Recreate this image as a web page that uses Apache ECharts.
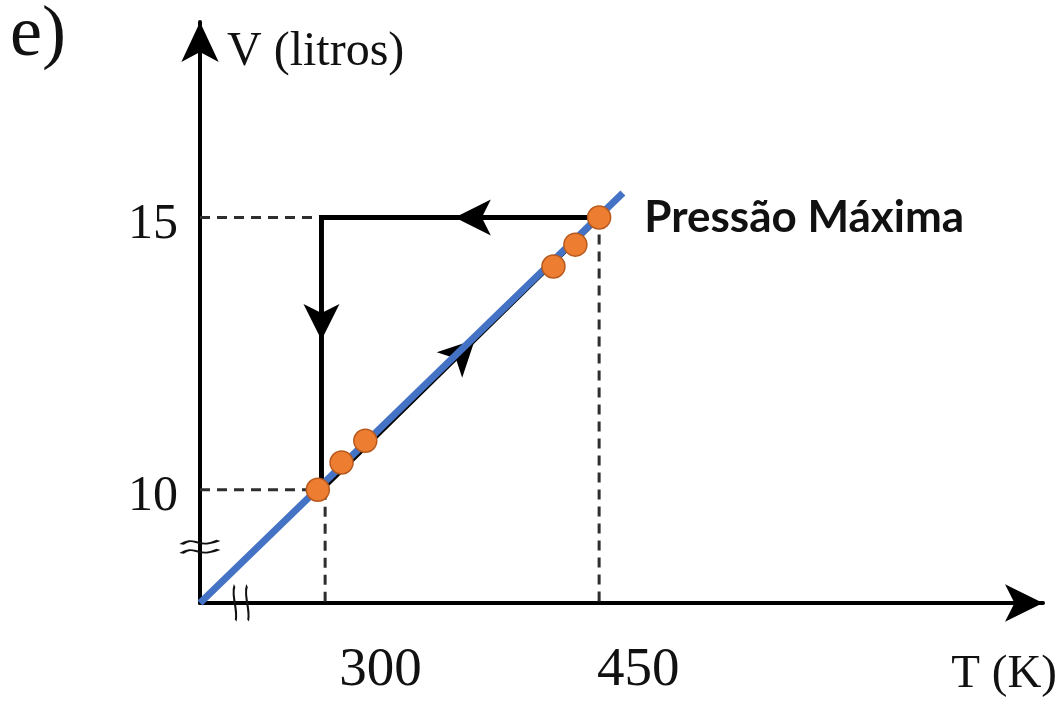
<!DOCTYPE html>
<html><head><meta charset="utf-8">
<script src="https://cdn.jsdelivr.net/npm/echarts@6/dist/echarts.min.js"></script>
<style>html,body{margin:0;padding:0;background:#fff}#c{width:1062px;height:701px}</style>
</head><body><div id="c"></div>
<script>
// ---- data (T in K, V in litres); both axes are broken, origin is not zero ----
const panelLabel = 'e)';
const tAxisName = 'T (K)';
const vAxisName = 'V (litros)';
const annotationText = 'Pressão Máxima';
const tAxisRange = [231.5, 693.0];
const vAxisRange = [7.92, 18.59];
const tTickValues = [300, 450];
const tTickLabels = ['300', '450'];
const vTickValues = [10, 15];
const vTickLabels = ['10', '15'];
// measured states (orange points)
const stateT = [296, 309, 322, 425, 437, 450];
const stateV = [10.0, 10.5, 10.9, 14.1, 14.5, 15.0];
// blue line V proportional to T
const fitT = [231.5, 463];
const fitV = [7.92, 15.45];
// black cycle path
const cycleT = [450, 298, 298, 450];
const cycleV = [15, 15, 10, 15];
// direction arrows on the cycle (arrow tips)
const arrowT = [371, 298, 382];
const arrowV = [15, 12.75, 12.76];
const arrowAngle = [90, 180, -45];
// dashed guide values
const guideT = [300, 450];
const guideV = [10, 15];
// axis-break marks positions (T on x-axis, V on y-axis)
const breakT = 254;
const breakV = 8.95;

const serif = 'Liberation Serif';
const chart = echarts.init(document.getElementById('c'), null, {renderer: 'canvas'});

const dash = {color: '#2e2e2e', width: 3, type: [10, 7]};
function seg(a, b) {
  return {type: 'line', data: [a, b], symbol: 'none', lineStyle: dash, z: 1, silent: true, clip: false};
}
const maxIdx = stateV.indexOf(Math.max(...stateV));
const tMin = tAxisRange[0], vMin = vAxisRange[0];

const option = {
  animation: false,
  backgroundColor: '#fff',
  title: {text: panelLabel, left: 10, top: 0, padding: 0,
    textStyle: {fontFamily: serif, fontWeight: 'normal', fontSize: 72, color: '#111'}},
  grid: {left: 200, top: 22, right: 19, bottom: 98, containLabel: false},
  xAxis: {
    type: 'value', min: tAxisRange[0], max: tAxisRange[1],
    name: '{n|' + tAxisName + '}', nameLocation: 'end', nameGap: 14,
    nameTextStyle: {align: 'right', verticalAlign: 'middle',
      rich: {n: {fontFamily: serif, fontSize: 47, color: '#111', padding: [144, 0, 0, 0]}}},
    axisLine: {onZero: false, lineStyle: {color: '#000', width: 4}, symbol: ['none', 'arrow'], symbolSize: [28, 38]},
    axisTick: {show: false}, splitLine: {show: false},
    axisLabel: {
      customValues: tTickValues, margin: 40, align: 'left',
      formatter: v => { const i = tTickValues.indexOf(v); return '{' + (i === 0 ? 'a' : 'b') + '|' + tTickLabels[i] + '}'; },
      rich: {
        a: {fontFamily: serif, fontSize: 55, color: '#111', padding: [0, 0, 0, 14]},
        b: {fontFamily: serif, fontSize: 55, color: '#111', padding: [0, 0, 0, -2]}
      }
    }
  },
  yAxis: {
    type: 'value', min: vAxisRange[0], max: vAxisRange[1],
    name: vAxisName, nameLocation: 'end', nameGap: -30,
    nameTextStyle: {fontFamily: serif, fontSize: 48, color: '#111', align: 'left', verticalAlign: 'middle', padding: [0, 0, 0, 27]},
    axisLine: {onZero: false, lineStyle: {color: '#000', width: 4}, symbol: ['none', 'arrow'], symbolSize: [28, 40]},
    axisTick: {show: false}, splitLine: {show: false},
    axisLabel: {
      customValues: vTickValues, margin: 22,
      formatter: v => '{v|' + vTickLabels[vTickValues.indexOf(v)] + '}',
      rich: {v: {fontFamily: serif, fontSize: 50, color: '#111', padding: [14, 0, 0, 0]}}
    }
  },
  series: [
    // dashed guides
    seg([tMin, guideV[0]], [stateT[0], guideV[0]]),
    seg([tMin, guideV[1]], [cycleT[1], guideV[1]]),
    seg([guideT[0], guideV[0]], [guideT[0], vMin]),
    seg([guideT[1], guideV[1]], [guideT[1], vMin]),
    // black cycle
    {type: 'line', data: cycleT.map((t, i) => [t, cycleV[i]]), symbol: 'none', z: 2, silent: true,
      lineStyle: {color: '#000', width: 5, join: 'miter'}},
    // arrows
    {type: 'scatter', z: 3, silent: true, clip: false,
      data: arrowT.map((t, i) => ({value: [t, arrowV[i]], symbolRotate: arrowAngle[i]})),
      symbol: 'arrow', symbolSize: [27, 36], itemStyle: {color: '#000', opacity: 1}},
    // blue proportional line
    {type: 'line', data: fitT.map((t, i) => [t, fitV[i]]), symbol: 'none', z: 4, silent: true, clip: false,
      lineStyle: {color: '#4472C4', width: 7}},
    // orange states
    {type: 'scatter', z: 5, silent: true, clip: false, symbolSize: 23,
      itemStyle: {color: '#ED7D31', borderColor: '#B85A1E', borderWidth: 1.5, opacity: 1},
      data: stateT.map((t, i) => ({
        value: [t, stateV[i]],
        label: i === maxIdx ? {show: true, formatter: annotationText, position: 'right', distance: 33,
          fontFamily: 'Lato', fontWeight: 'bold', fontSize: 44, color: '#111'} : {show: false}
      }))},
    // axis break marks
    {type: 'scatter', z: 6, silent: true, clip: false,
      data: [
        {value: [tMin, breakV], symbol: 'path://M0,5 C6,1 10,1 16,3 C22,5 28,5 37,1 M0,14 C6,10 10,10 16,12 C22,14 28,14 37,10', symbolSize: [37, 13]},
        {value: [breakT, vMin], symbol: 'path://M2,0 C-1,10 5,24 3,35 M13,0 C10,10 16,24 14,35', symbolSize: [15, 35]}
      ],
      itemStyle: {color: 'none', borderColor: '#111', borderWidth: 3, opacity: 1}}
  ]
};
chart.setOption(option);
</script></body></html>
